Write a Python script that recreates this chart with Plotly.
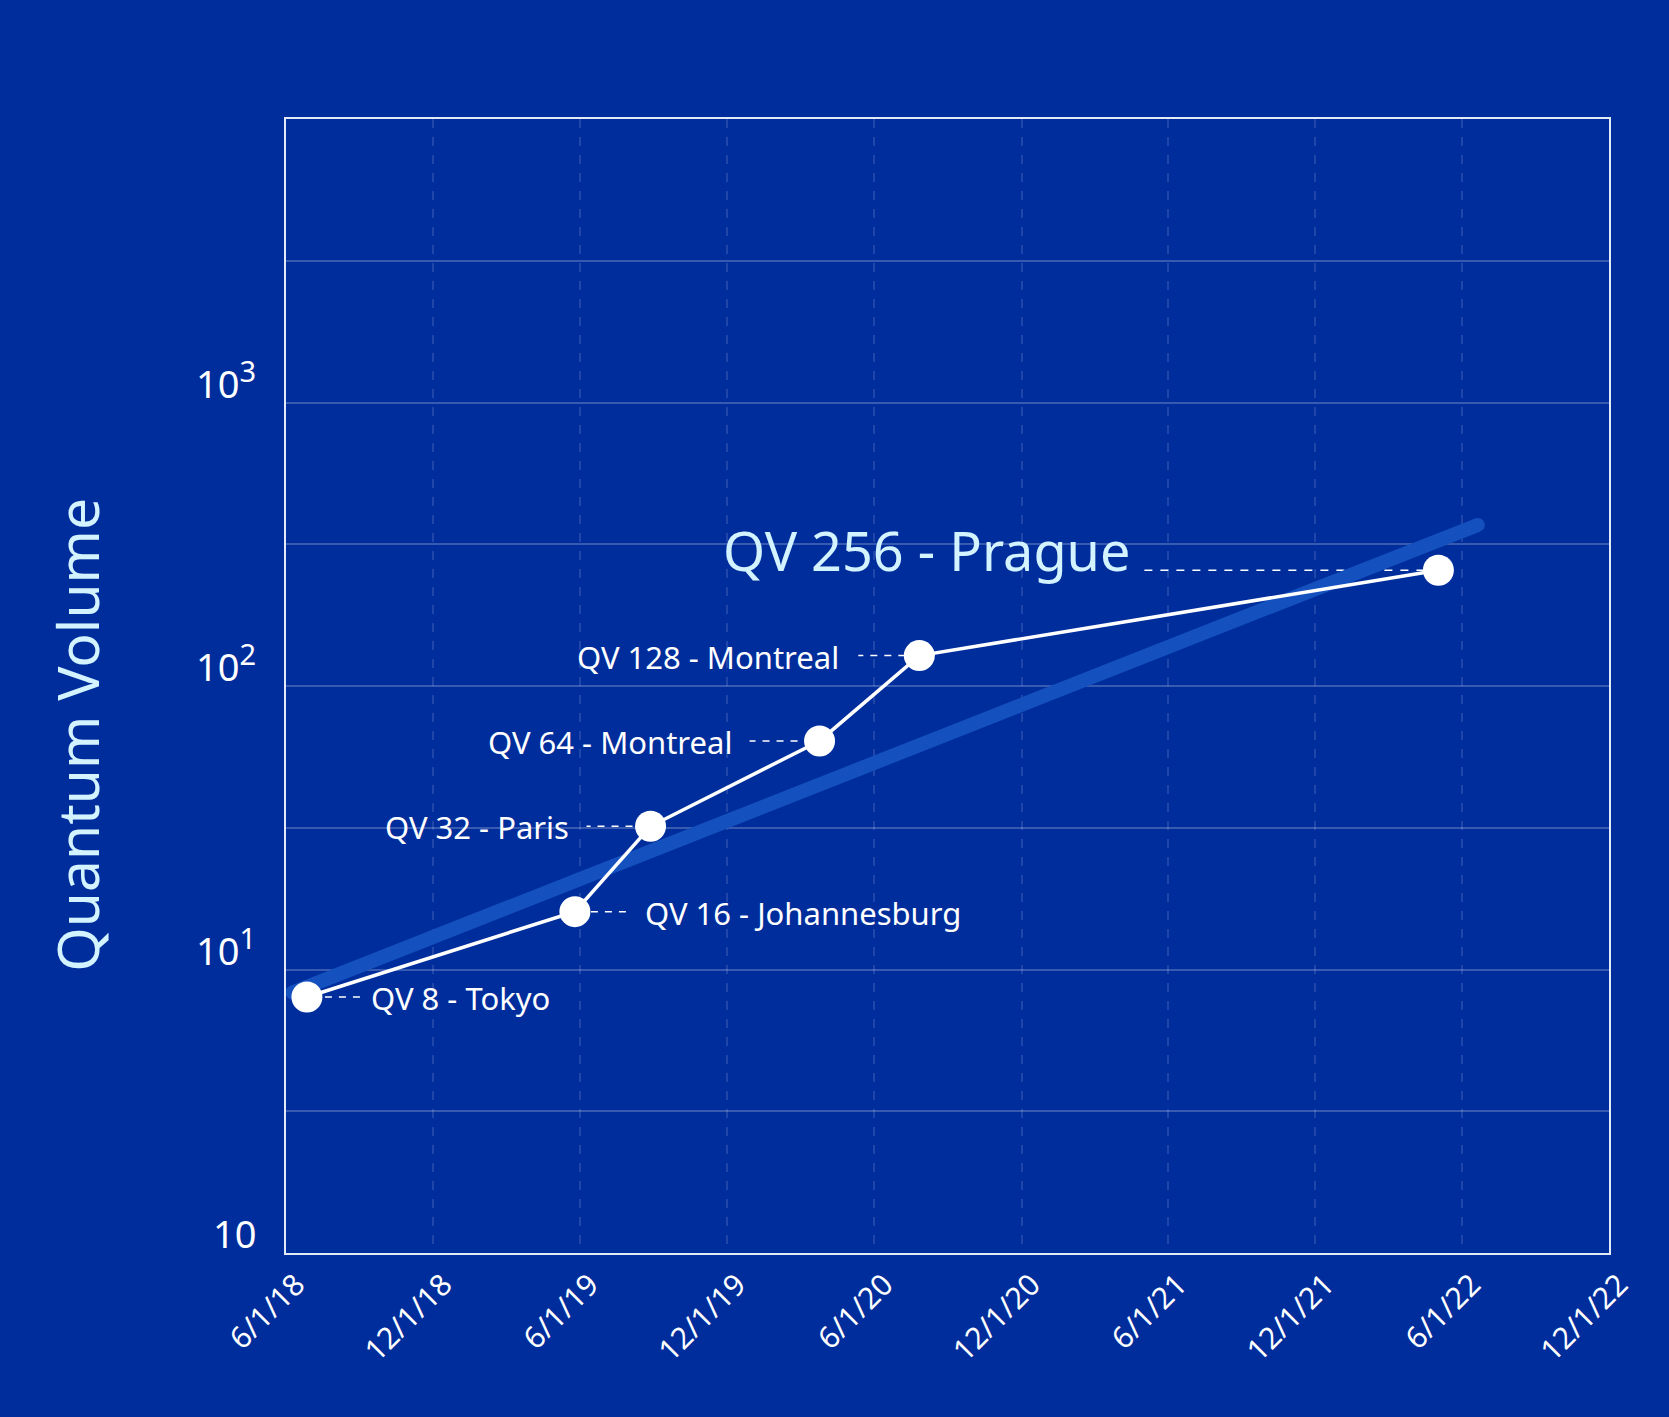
import math
import plotly.graph_objects as go

# ---------------- data ----------------
release_dates = ["2018-06-27", "2019-05-26", "2019-08-28", "2020-03-25", "2020-07-27", "2022-05-03"]
quantum_volume = [8, 16, 32, 64, 128, 256]
system_names = ["Tokyo", "Johannesburg", "Paris", "Montreal", "Montreal", "Prague"]

trend_dates = ["2018-06-09", "2022-06-21"]
trend_values = [8.3, 370]

x_tick_dates = ["2018-06-01", "2018-12-01", "2019-06-01", "2019-12-01", "2020-06-01",
                "2020-12-01", "2021-06-01", "2021-12-01", "2022-06-01", "2022-12-01"]
x_tick_labels = ["6/1/18", "12/1/18", "6/1/19", "12/1/19", "6/1/20",
                 "12/1/20", "6/1/21", "12/1/21", "6/1/22", "12/1/22"]

y_tick_values = [1, 10, 100, 1000]
y_tick_base = ["10", "10", "10", "10"]
y_tick_exponent = ["", "1", "2", "3"]
y_grid_exponents = [0, 0.5, 1, 1.5, 2, 2.5, 3, 3.5, 4]

# ---------------- styling (label placement, in pixels) ----------------
# (side, dash start, dash end, text offset, y shift, font size, color)
label_style = [
    ("right", 18, 56, 62, -1, 31, "#ffffff"),
    ("right", 16, 54, 68, -1, 31, "#ffffff"),
    ("left", -18, -64, -80, -1, 31, "#ffffff"),
    ("left", -22, -70, -86, -1, 31, "#ffffff"),
    ("left", -14, -61, -78, -1, 31, "#ffffff"),
    ("left", -14, -298, -306, 20, 54, "#d2f3ff"),
]

BG = "#002d9c"
FONT = "Noto Sans"

fig = go.Figure()

# trend band
fig.add_trace(go.Scatter(
    x=trend_dates, y=trend_values, mode="lines+markers",
    line=dict(color="#1451bf", width=14),
    marker=dict(color="#1451bf", size=14, line=dict(width=0)),
    hoverinfo="skip", showlegend=False,
))

# main series
fig.add_trace(go.Scatter(
    x=release_dates, y=quantum_volume, mode="lines+markers",
    line=dict(color="#ffffff", width=3.5),
    marker=dict(color="#ffffff", size=31, line=dict(width=0)),
    showlegend=False,
))

shapes = []
annotations = []
for d, v, name, st in zip(release_dates, quantum_volume, system_names, label_style):
    side, d0, d1, toff, ysh, fs, col = st
    dash = "8px,8px" if fs > 40 else "7px,7px"
    shapes.append(dict(
        type="line", xref="x", yref="y", xsizemode="pixel", xanchor=d,
        x0=d0, x1=d1, y0=v, y1=v,
        line=dict(color="#ffffff", width=1.5, dash=dash), layer="below",
    ))
    annotations.append(dict(
        x=d, y=math.log10(v), xref="x", yref="y",
        text=f"QV {v} - {name}", showarrow=False,
        xanchor="left" if side == "right" else "right", yanchor="middle",
        xshift=toff, yshift=ysh,
        font=dict(family=FONT, size=fs, color=col),
    ))

for v, b, e in zip(y_tick_values, y_tick_base, y_tick_exponent):
    t = b if not e else f"{b}<sup><span style='font-size:29px'>{e}</span></sup>"
    annotations.append(dict(
        x=0, y=math.log10(v), xref="paper", yref="y", text=t, showarrow=False,
        xanchor="right", yanchor="bottom", xshift=-28, yshift=-8,
        font=dict(family=FONT, size=38, color="#ffffff"),
    ))

annotations.append(dict(
    x=-0.158, y=0.457, xref="paper", yref="paper", text="Quantum Volume",
    textangle=-90, showarrow=False, xanchor="center", yanchor="middle",
    font=dict(family=FONT, size=57, color="#d2f3ff"),
))

fig.update_layout(
    width=1669, height=1417,
    margin=dict(l=286, r=60, t=119, b=164),
    paper_bgcolor=BG, plot_bgcolor=BG,
    shapes=shapes, annotations=annotations,
    xaxis=dict(
        type="date", range=[x_tick_dates[0], x_tick_dates[-1]],
        tickvals=x_tick_dates, ticktext=x_tick_labels, tickangle=-45,
        tickfont=dict(family=FONT, size=30, color="#ffffff"),
        showgrid=True, gridcolor="rgba(255,255,255,0.12)", gridwidth=1.5, griddash="dash",
        showline=True, mirror=True, linecolor="#e3e9f7", linewidth=2,
        ticks="", zeroline=False, ticklabelstandoff=0, ticklabelshift=10,
    ),
    yaxis=dict(
        type="log", range=[0, 4],
        tickvals=[10 ** e for e in y_grid_exponents], showticklabels=False,
        showgrid=True, gridcolor="rgba(255,255,255,0.22)", gridwidth=1.5,
        showline=True, mirror=True, linecolor="#e3e9f7", linewidth=2,
        ticks="", zeroline=False,
    ),
)

fig.write_html(
    "out.html",
    config={"displayModeBar": False},
    post_script="document.body.style.margin='0';document.body.style.background='#002d9c';",
)
